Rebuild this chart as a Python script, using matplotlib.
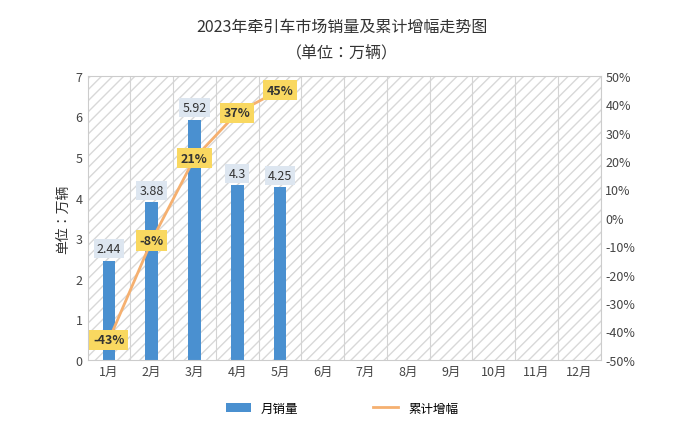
import matplotlib
matplotlib.use("Agg")
import matplotlib.pyplot as plt
from matplotlib.patches import Rectangle
plt.rcParams['font.family'] = 'sans-serif'
plt.rcParams['font.sans-serif'] = ['Noto Sans CJK SC', 'Noto Sans CJK JP', 'DejaVu Sans']
plt.rcParams['axes.unicode_minus'] = False

months = ["1月","2月","3月","4月","5月","6月","7月","8月","9月","10月","11月","12月"]
sales = [2.44, 3.88, 5.92, 4.3, 4.25]
growth = [-43, -8, 21, 37, 45]
sales_labels = ["2.44", "3.88", "5.92", "4.3", "4.25"]

fig = plt.figure(figsize=(6.84, 4.27), dpi=100)
ax = fig.add_axes([0.128, 0.155, 0.75, 0.665])
x = list(range(len(months)))
ax.set_xlim(-0.5, 11.5)
ax.set_ylim(0, 7)
hatch = Rectangle((0, 0), 1, 1, transform=ax.transAxes, facecolor="white",
                  edgecolor="#d8d8d8", hatch="///", lw=0, zorder=0)
ax.add_patch(hatch)
for i in range(12):
    ax.axvline(i + 0.5, color="#d4d4d4", lw=0.8, zorder=0.5)
ax.bar(x[:5], sales, width=0.3, color="#4a90d0", zorder=2, label="月销量")
for xi, v, t in zip(x, sales, sales_labels):
    ax.text(xi, v + 0.3, t, ha="center", va="center", fontsize=9, color="#333333",
            bbox=dict(boxstyle="square,pad=0.25", fc="#dde6f0", ec="none"), zorder=4)
ax.set_xticks(x)
ax.set_xticklabels(months, fontsize=9, color="#444444")
ax.tick_params(axis="y", labelsize=9, colors="#444444", length=0)
ax.tick_params(axis="x", length=0)
ax.set_ylabel("单位：万辆", fontsize=10, color="#333333")
for s in ax.spines.values():
    s.set_color("#cccccc")

ax2 = ax.twinx()
ax2.set_ylim(-50, 50)
ax2.set_yticks(range(-50, 51, 10))
ax2.set_yticklabels([f"{v}%" for v in range(-50, 51, 10)], fontsize=9, color="#444444")
ax2.tick_params(length=0)
for s in ax2.spines.values():
    s.set_visible(False)
ax2.plot(x[:5], growth, color="#f5b070", lw=2, zorder=3, label="累计增幅")
for xi, g in zip(x, growth):
    ax2.text(xi, g, f"{g}%", ha="center", va="center", fontsize=9, fontweight="bold",
             style="italic", color="#333333",
             bbox=dict(boxstyle="square,pad=0.3", fc="#f9d860", ec="none"), zorder=5)

fig.text(0.5, 0.925, "2023年牵引车市场销量及累计增幅走势图", ha="center", fontsize=11.5, color="#333333")
fig.text(0.5, 0.865, "（单位：万辆）", ha="center", fontsize=11.5, color="#333333")

h1, l1 = ax.get_legend_handles_labels()
h2, l2 = ax2.get_legend_handles_labels()
fig.legend(h1 + h2, l1 + l2, loc="lower center", ncol=2, frameon=False, fontsize=9,
           bbox_to_anchor=(0.5, 0.0), columnspacing=6)
fig.savefig("out.png", dpi=100)
